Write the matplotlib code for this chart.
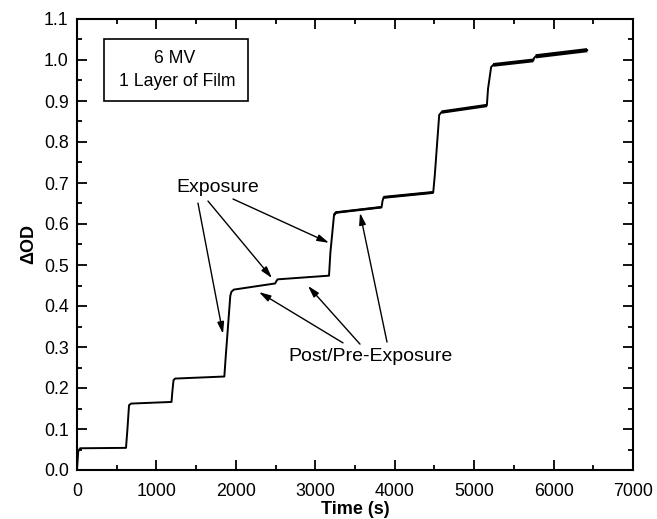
import matplotlib
matplotlib.use("Agg")
import matplotlib.pyplot as plt
from matplotlib.patches import Rectangle
import numpy as np

plt.rcParams['font.family'] = ['Liberation Sans', 'DejaVu Sans']

# breakpoints of the OD trace (time in s, delta OD)
time_s = [0, 15, 40, 617, 635, 655, 680, 1190, 1200, 1215, 1235, 1855, 1870, 1930, 1945,
          1975, 2495, 2505, 2525, 3173, 3190, 3236, 3260, 3835, 3845, 3860, 4485, 4505,
          4560, 4590, 5160, 5175, 5214, 5240, 5745, 5755, 5775, 6423]
delta_od = [0.0, 0.045, 0.053, 0.054, 0.10, 0.158, 0.162, 0.166, 0.19, 0.219, 0.223, 0.228,
            0.27, 0.425, 0.435, 0.440, 0.455, 0.459, 0.465, 0.474, 0.53, 0.622, 0.628, 0.641,
            0.655, 0.665, 0.677, 0.72, 0.866, 0.873, 0.889, 0.93, 0.983, 0.988, 0.999, 1.005,
            1.009, 1.024]

# noisier plateaus (start, end in s), drawn heavier
noisy_spans = [(3236, 3835), (3860, 4485), (4590, 5160), (5240, 5745), (5775, 6423)]

# annotation arrows: (tail t, tail od, head t, head od)
exposure_arrows = [(1523, 0.651, 1838, 0.332),
                   (1649, 0.656, 2455, 0.468),
                   (1964, 0.661, 3173, 0.554)]
postpre_arrows = [(3349, 0.310, 2291, 0.434),
                  (3563, 0.307, 2908, 0.449),
                  (3903, 0.312, 3563, 0.627)]

fig = plt.figure(figsize=(6.57, 5.19), dpi=100)
ax = fig.add_axes([77/657, 49/519, 556/657, 451/519])

t = np.array(time_s)
od = np.array(delta_od)
ax.plot(t, od, color='black', lw=1.4)
for i, (a, b) in enumerate(noisy_spans):
    m = (t >= a) & (t <= b)
    ax.plot(t[m], od[m], color='black', lw=1.8 + 0.3 * i, solid_capstyle='butt')

ax.set_xlim(0, 7000)
ax.set_ylim(0, 1.1)
ax.set_xticks(np.arange(0, 7001, 1000))
ax.set_yticks(np.arange(0, 1.101, 0.1))
ax.set_xticks(np.arange(500, 7000, 1000), minor=True)
ax.set_yticks(np.arange(0.05, 1.1, 0.1), minor=True)
ax.yaxis.set_major_formatter(matplotlib.ticker.FormatStrFormatter('%.1f'))
ax.tick_params(which='both', direction='in', top=True, right=True, width=1.3,
               labelsize=12.8)
ax.tick_params(axis='x', which='both', pad=9)
ax.tick_params(axis='y', which='both', pad=6)
ax.tick_params(which='major', length=7)
ax.tick_params(which='minor', length=3.5)
for s in ax.spines.values():
    s.set_linewidth(1.5)

ax.set_xlabel('Time (s)', fontsize=13, fontweight='bold', labelpad=1)
ax.set_ylabel('ΔOD', fontsize=13, fontweight='bold', labelpad=5)

# legend-style box
ax.add_patch(Rectangle((0.0486, 0.818), 0.259, 0.138, transform=ax.transAxes,
                       fill=False, lw=1.2, color='black'))
ax.text(0.176, 0.9135, '6 MV', transform=ax.transAxes, ha='center', va='center',
        fontsize=12.7)
ax.text(0.18, 0.8625, '1 Layer of Film', transform=ax.transAxes, ha='center', va='center',
        fontsize=12.7)

arrow = dict(arrowstyle='-|>,head_length=0.7,head_width=0.2', color='black', lw=1.0,
             shrinkA=0, shrinkB=0)
ax.text(1775, 0.688, 'Exposure', ha='center', va='center', fontsize=14)
for x0, y0, x1, y1 in exposure_arrows:
    ax.annotate('', xy=(x1, y1), xytext=(x0, y0), arrowprops=arrow)
ax.text(3701, 0.276, 'Post/Pre-Exposure', ha='center', va='center', fontsize=14)
for x0, y0, x1, y1 in postpre_arrows:
    ax.annotate('', xy=(x1, y1), xytext=(x0, y0), arrowprops=arrow)

fig.savefig('out.png', dpi=100)
